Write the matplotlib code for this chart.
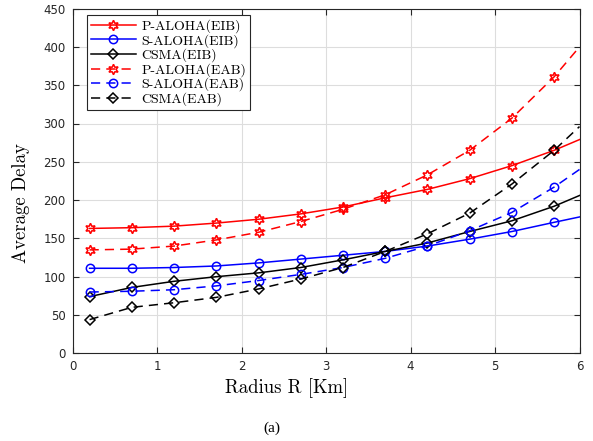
import matplotlib
matplotlib.use("Agg")
import matplotlib.pyplot as plt

radius = [0.2, 0.7, 1.2, 1.7, 2.2, 2.7, 3.2, 3.7, 4.2, 4.7, 5.2, 5.7, 6.0]

p_aloha_eib = [163, 164, 166, 170, 175, 182, 191, 203, 214, 228, 245, 265, 279]
s_aloha_eib = [111, 111, 112, 114, 118, 123, 128, 133, 140, 149, 159, 171, 178]
csma_eib = [74, 86, 94, 100, 105, 112, 122, 133, 144, 159, 173, 192, 206]
p_aloha_eab = [135, 136, 140, 148, 158, 172, 188, 207, 233, 265, 307, 361, 400]
s_aloha_eab = [80, 81, 83, 88, 95, 103, 112, 124, 140, 160, 184, 217, 240]
csma_eab = [44, 60, 66, 73, 84, 97, 112, 133, 156, 183, 221, 265, 296]

labels = ["P-ALOHA(EIB)", "S-ALOHA(EIB)", "CSMA(EIB)",
          "P-ALOHA(EAB)", "S-ALOHA(EAB)", "CSMA(EAB)"]

x_ticks = [0, 1, 2, 3, 4, 5, 6]
y_ticks = [0, 50, 100, 150, 200, 250, 300, 350, 400, 450]

fig = plt.figure(figsize=(5.93, 4.41), dpi=100)
ax = fig.add_axes([72.7/593, 1-353.3/441, (579.5-72.7)/593, (353.3-8.6)/441])

hexagram = (6, 1, 0)
series = [
    (p_aloha_eib, 'red', '-', hexagram, 7.5),
    (s_aloha_eib, 'blue', '-', 'o', 6),
    (csma_eib, 'black', '-', 'D', 5),
    (p_aloha_eab, 'red', '--', hexagram, 7.5),
    (s_aloha_eab, 'blue', '--', 'o', 6),
    (csma_eab, 'black', '--', 'D', 5),
]
marks = list(range(len(radius) - 1))
for (vals, col, ls, mk, ms), lab in zip(series, labels):
    kw = dict(color=col, lw=1.1, marker=mk, markersize=ms, markerfacecolor='none',
              markeredgecolor=col, markeredgewidth=1.1, markevery=marks, label=lab)
    if ls == '--':
        kw['dashes'] = (6, 4)
    ax.plot(radius, vals, **kw)

ax.set_xlim(0, 6)
ax.set_ylim(0, 450)
ax.set_xticks(x_ticks)
ax.set_yticks(y_ticks)
ax.grid(True, color='#dddddd', lw=0.8)
ax.set_axisbelow(True)
ax.tick_params(direction='in', top=True, right=True, length=4, width=0.8,
               labelsize=8.5, colors='#262626', labelcolor='#262626', pad=5)
for s in ax.spines.values():
    s.set_color('#262626')
    s.set_linewidth(0.8)
for t in ax.get_xticklabels() + ax.get_yticklabels():
    t.set_fontfamily('DejaVu Sans')

ax.set_xlabel("Radius R [Km]", fontfamily='cmr10', fontsize=13.5)
ax.set_ylabel("Average Delay", fontfamily='cmr10', fontsize=13.5)
ax.xaxis.set_label_coords(0.423, -0.1007)
ax.yaxis.set_label_coords(-0.102, 0.436)
ax.xaxis.label.set_va('center')
ax.yaxis.label.set_va('center')

leg = ax.legend(loc='upper left', bbox_to_anchor=((87-72.7)/506.8, 1-(15-8.6)/344.7),
                prop={'family': 'cmr10', 'size': 10}, handlelength=3.2,
                handletextpad=0.4, labelspacing=0.06, borderpad=0.3,
                borderaxespad=0, fancybox=False, framealpha=1, edgecolor='#262626')
leg.get_frame().set_linewidth(0.8)

fig.text(272/593, 1-428/441, "(a)", ha='center', va='center',
         fontfamily='Liberation Serif', fontsize=11)

fig.savefig("out.png", dpi=100)
